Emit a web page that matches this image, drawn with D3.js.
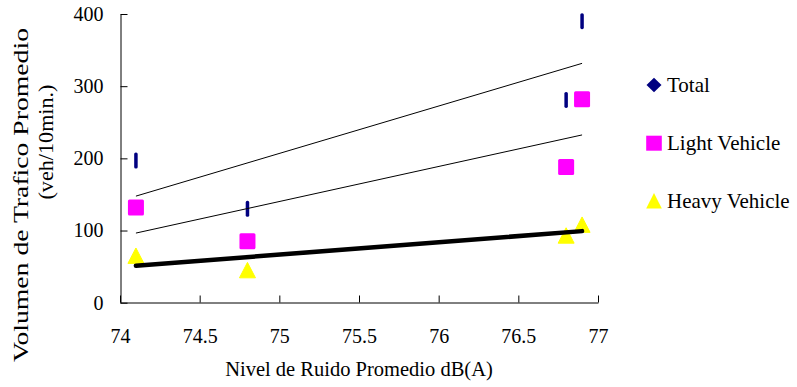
<!DOCTYPE html>
<html>
<head>
<meta charset="utf-8">
<script src="https://cdn.jsdelivr.net/npm/d3@7"></script>
<style>
html,body{margin:0;padding:0;background:#fff;}
svg{display:block;}
text{font-family:"Liberation Serif","Times New Roman",serif;fill:#000;}
</style>
</head>
<body>
<svg id="chart" width="797" height="387"></svg>
<script>
// ---- data ----
const noiseLevels = [74.1, 74.8, 76.8, 76.9];
const totalValues = [197, 130, 281, 390];
const lightValues = [132, 85, 188, 282];
const heavyValues = [65, 45, 93, 108];
const seriesNames = ["Total", "Light Vehicle", "Heavy Vehicle"];
const xTicks = [74, 74.5, 75, 75.5, 76, 76.5, 77];
const yTicks = [0, 100, 200, 300, 400];
const xTitle = "Nivel de Ruido Promedio dB(A)";
const yTitleLines = ["Volumen de Trafico Promedio", "(veh/10min.)"];

const svg = d3.select("#chart");
const x = d3.scaleLinear().domain([74, 77]).range([120, 598]);
const y = d3.scaleLinear().domain([0, 400]).range([302.7, 14]);

// axes
const yAxis = d3.axisLeft(y).tickValues(yTicks).tickSizeInner(-7).tickSizeOuter(0).tickPadding(17).tickFormat(d3.format("d"));
const xAxis = d3.axisBottom(x).tickValues(xTicks).tickSizeInner(-7).tickSizeOuter(0).tickPadding(28).tickFormat(d => String(d));

const gy = svg.append("g").attr("transform", "translate(120.5,0)").call(yAxis);
const gx = svg.append("g").attr("transform", "translate(0,302.5)").call(xAxis);
[gx, gy].forEach(g => {
  g.attr("font-family", "Liberation Serif").attr("font-size", 20);
  g.selectAll("path.domain").attr("stroke", "#000").attr("stroke-width", 1);
  g.selectAll(".tick line").attr("stroke", "#000").attr("stroke-width", 1);
  g.selectAll(".tick text").attr("font-family", "Liberation Serif").attr("font-size", 20).attr("fill", "#000");
});
gx.selectAll(".tick text").attr("dy", "0.62em");

// titles
svg.append("text").attr("x", 359).attr("y", 376).attr("text-anchor", "middle")
  .style("font-size", "20.5px").text(xTitle);
svg.append("text").attr("transform", "translate(28,195) rotate(-90)").attr("text-anchor", "middle")
  .style("font-size", "20.5px").attr("textLength", 334).attr("lengthAdjust", "spacingAndGlyphs").text(yTitleLines[0]);
svg.append("text").attr("transform", "translate(53,142) rotate(-90)").attr("text-anchor", "middle")
  .style("font-size", "20.5px").attr("textLength", 115).attr("lengthAdjust", "spacingAndGlyphs").text(yTitleLines[1]);

const pts = (vals) => noiseLevels.map((n, i) => ({x: n, y: vals[i]}));

// markers
const navy = "#000080", magenta = "#FF00FF", yellow = "#FFFF00";
svg.append("g").selectAll("rect").data(pts(totalValues)).join("rect")
  .attr("x", d => x(d.x) - 1.75).attr("y", d => y(d.y) - 8)
  .attr("width", 3.5).attr("height", 16).attr("rx", 1.6).attr("fill", navy);
svg.append("g").selectAll("rect").data(pts(lightValues)).join("rect")
  .attr("x", d => x(d.x) - 8).attr("y", d => y(d.y) - 8)
  .attr("width", 16).attr("height", 16).attr("rx", 1.5).attr("fill", magenta);
const triPath = "M0,-7.8L8,7.6L-8,7.6Z";
svg.append("g").selectAll("path").data(pts(heavyValues)).join("path")
  .attr("transform", d => `translate(${x(d.x)},${y(d.y)})`)
  .attr("d", triPath).attr("fill", yellow).attr("stroke", yellow).attr("stroke-width", 1).attr("stroke-linejoin", "round");

// linear trendlines (least squares)
function trend(vals) {
  const mx = d3.mean(noiseLevels), my = d3.mean(vals);
  let sxy = 0, sxx = 0;
  noiseLevels.forEach((n, i) => { sxy += (n - mx) * (vals[i] - my); sxx += (n - mx) ** 2; });
  const b = sxy / sxx, a = my - b * mx;
  const ext = d3.extent(noiseLevels);
  return ext.map(n => ({x: n, y: a + b * n}));
}
const line = d3.line().x(d => x(d.x)).y(d => y(d.y));
svg.append("path").attr("d", line(trend(totalValues))).attr("fill", "none").attr("stroke", "#000").attr("stroke-width", 1);
svg.append("path").attr("d", line(trend(lightValues))).attr("fill", "none").attr("stroke", "#000").attr("stroke-width", 1);
svg.append("path").attr("d", line(trend(heavyValues))).attr("fill", "none").attr("stroke", "#000").attr("stroke-width", 4.5).attr("stroke-linecap", "round");

// legend
const legend = svg.append("g").attr("transform", "translate(654,85)");
const legendItems = seriesNames.map((name, i) => ({name, i}));
const lg = legend.selectAll("g").data(legendItems).join("g").attr("transform", d => `translate(0,${d.i * 58})`);
lg.each(function(d) {
  const g = d3.select(this);
  if (d.i === 0) g.append("path").attr("d", "M0,-7.3L7.5,0L0,7.3L-7.5,0Z").attr("fill", navy);
  else if (d.i === 1) g.append("rect").attr("x", -7.8).attr("y", -7.3).attr("width", 15.6).attr("height", 15).attr("fill", magenta);
  else g.append("path").attr("d", "M0,-8L7.8,7.5L-7.8,7.5Z").attr("fill", yellow);
  g.append("text").attr("x", 13).attr("y", 6.5).style("font-size", "21px").text(d.name);
});
</script>
</body>
</html>
